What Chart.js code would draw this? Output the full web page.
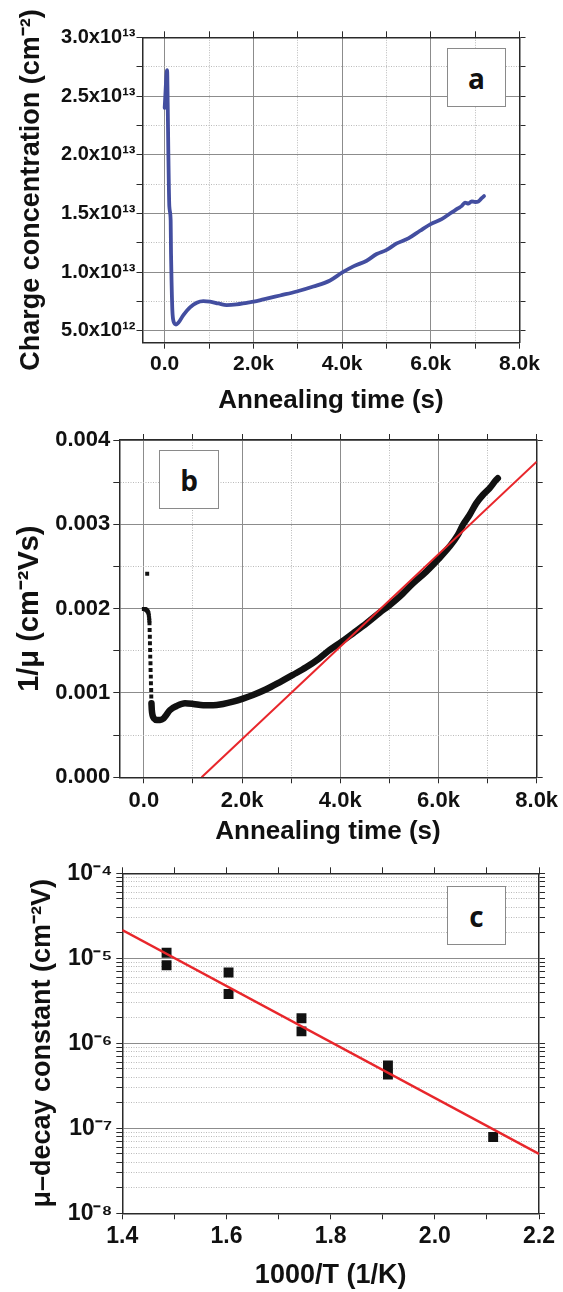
<!DOCTYPE html>
<html lang="en">
<head>
  <meta charset="UTF-8" />
  <title>Annealing of charge concentration and mobility</title>
  <script src="https://cdn.jsdelivr.net/npm/chart.js"></script>
  <style>
    body { margin: 0; background: #fff; }
    .panel { position: relative; width: 563px; }
    .panel canvas { display: block; }
    .tag {
      position: absolute;
      box-sizing: border-box;
      border: 1px solid #8a8a8a;
      background: #fff;
      font: bold 28px 'Open Sans', sans-serif;
      color: #111;
      display: flex;
      align-items: center;
      justify-content: center;
    }
  </style>
</head>
<body>
  <div class="panel" style="height:420px">
    <canvas id="chartA" width="563" height="420"></canvas>
    <div class="tag" style="left:447px;top:48px;width:59px;height:59px">a</div>
  </div>
  <div class="panel" style="height:430px">
    <canvas id="chartB" width="563" height="430"></canvas>
    <div class="tag" style="left:159px;top:30px;width:60px;height:59px">b</div>
  </div>
  <div class="panel" style="height:442px">
    <canvas id="chartC" width="563" height="442"></canvas>
    <div class="tag" style="left:447px;top:36px;width:59px;height:59px">c</div>
  </div>

  <script>
    // --- panel a: charge concentration vs annealing time
    const timeA = [0, 55, 68, 83, 105, 135, 143, 158, 173, 203, 256, 308, 421, 571, 722, 872,
      1023, 1211, 1398, 1624, 1850, 2008, 2226, 2602, 2977, 3353, 3729, 4006, 4254, 4554,
      4780, 5005, 5231, 5494, 5757, 5997, 6245, 6433, 6621, 6700, 6771, 6850, 6922, 7000,
      7072, 7147, 7200];
    const chargeA = [2.40e13, 2.72e13, 2.44e13, 2.01e13, 1.56e13, 1.44e13, 1.16e13, 8.76e12,
      6.78e12, 5.78e12, 5.55e12, 5.69e12, 6.35e12, 7.00e12, 7.40e12, 7.54e12, 7.49e12, 7.34e12,
      7.20e12, 7.26e12, 7.40e12, 7.49e12, 7.68e12, 8.02e12, 8.36e12, 8.78e12, 9.30e12, 9.98e12,
      1.050e13, 1.098e13, 1.155e13, 1.190e13, 1.245e13, 1.288e13, 1.353e13, 1.410e13, 1.452e13,
      1.500e13, 1.545e13, 1.565e13, 1.592e13, 1.585e13, 1.604e13, 1.598e13, 1.602e13, 1.630e13,
      1.648e13];

    // --- panel b: 1/mobility vs annealing time
    const dropTimeB = [68, 0, 17, 34, 51, 68, 82, 95, 102, 108, 112, 115, 118, 122, 124, 128,
      130, 135, 137, 142, 144, 149, 151, 155];
    const dropInvMuB = [0.002415, 0.001996, 0.001996, 0.001992, 0.001985, 0.001976, 0.001962,
      0.001945, 0.00192, 0.001885, 0.00186, 0.001826, 0.001747, 0.001668, 0.001589, 0.00151,
      0.001431, 0.001352, 0.001273, 0.001194, 0.001115, 0.001036, 0.000957, 0.000878];
    const bandTimeB = [155, 162, 176, 209, 264, 331, 399, 446, 534, 669, 838, 1007, 1209, 1412,
      1615, 1818, 2020, 2223, 2493, 2764, 3034, 3304, 3574, 3786, 4003, 4261, 4532, 4803, 4992,
      5209, 5480, 5751, 5995, 6225, 6395, 6496, 6632, 6768, 6903, 7039, 7174, 7208];
    const bandInvMuB = [0.000878, 0.000798, 0.000739, 0.000696, 0.00068, 0.00068, 0.000696,
      0.000731, 0.000798, 0.000846, 0.000878, 0.00087, 0.000854, 0.000854, 0.00087, 0.000897,
      0.000933, 0.000976, 0.001044, 0.001127, 0.001214, 0.001304, 0.001411, 0.00151, 0.001597,
      0.001708, 0.001826, 0.001953, 0.002036, 0.002143, 0.0023, 0.002439, 0.002585, 0.002736,
      0.002874, 0.002992, 0.003111, 0.003249, 0.003348, 0.003427, 0.003526, 0.003546];
    const fitTimeB = [1176, 8000];
    const fitInvMuB = [0, 0.003743];

    // --- panel c: mobility decay constant vs 1000/T
    const invTempC = [1.485, 1.485, 1.604, 1.604, 1.744, 1.744, 1.910, 1.910, 2.112];
    const decayC = [1.16e-5, 8.3e-6, 6.8e-6, 3.8e-6, 1.97e-6, 1.38e-6, 5.5e-7, 4.3e-7, 7.9e-8];
    const fitInvTempC = [1.4, 2.2];
    const fitDecayC = [2.15e-5, 5.0e-8];

    // --- tick positions
    const timeTicks = [0, 1000, 2000, 3000, 4000, 5000, 6000, 7000, 8000];
    const chargeTicks = [5e12, 7.5e12, 1e13, 1.25e13, 1.5e13, 1.75e13, 2e13, 2.25e13, 2.5e13, 2.75e13, 3e13];
    const invMuTicks = [0, 0.0005, 0.001, 0.0015, 0.002, 0.0025, 0.003, 0.0035, 0.004];
    const invTempTicks = [1.4, 1.5, 1.6, 1.7, 1.8, 1.9, 2.0, 2.1, 2.2];
    const decadesC = [1e-8, 1e-7, 1e-6, 1e-5, 1e-4];
    const stepsC = [1, 2, 3, 4, 5, 6, 7, 8, 9];

    const FONT = "'Liberation Sans', Arial, Helvetica, sans-serif";
    const INK = '#111111';
    const FRAME = '#2a2a2a';
    const MAJOR = '#8c8c8c';
    const MINOR = '#bababa';

    Chart.defaults.font.family = FONT;
    Chart.defaults.color = INK;

    const pts = (xs, ys) => xs.map((x, i) => ({ x, y: ys[i] }));
    const SUP = { '0': '⁰', '1': '¹', '2': '²', '3': '³', '4': '⁴', '5': '⁵', '6': '⁶', '7': '⁷', '8': '⁸', '9': '⁹', '-': '⁻' };
    const sup = n => String(n).split('').map(ch => SUP[ch]).join('');

    const bold = size => ({ size, weight: 'bold', family: FONT });
    const fixWidth = w => s => { s.width = w; };
    const fixHeight = h => s => { s.height = h; };
    const useTicks = list => s => { s.ticks = list.map(v => ({ value: v })); };

    function grid(isMajor, onArea) {
      return {
        drawOnChartArea: onArea,
        color: c => (c.tick && isMajor(c.tick.value)) ? MAJOR : MINOR,
        lineWidth: 1,
        tickLength: 6,
        tickColor: FRAME,
        tickWidth: 1
      };
    }
    function border(isMajor) {
      return {
        color: FRAME,
        width: 1.5,
        dash: c => (c.tick && !isMajor(c.tick.value)) ? [1, 1.5] : []
      };
    }
    // unlabelled copy of an axis for the top / right side of the frame
    function mirror(base, position, fit) {
      return Object.assign({}, base, {
        position,
        ticks: { display: false, autoSkip: false },
        grid: Object.assign({}, base.grid, { drawOnChartArea: false }),
        title: { display: false },
        afterFit: fit
      });
    }

    const timeLabel = v => v === 0 ? '0.0' : (v % 2000 === 0 ? (v / 1000).toFixed(1) + 'k' : '');
    const evenThousand = v => Math.round(v) % 2000 === 0;

    const common = {
      responsive: false,
      animation: false,
      devicePixelRatio: 1,
      plugins: { legend: { display: false }, tooltip: { enabled: false } }
    };

    // ---------- panel a ----------
    const isMajorA = v => Math.round(v / 2.5e12) % 2 === 0;
    const xA = {
      type: 'linear', position: 'bottom', min: -500, max: 8000,
      afterBuildTicks: useTicks(timeTicks),
      ticks: { autoSkip: false, maxRotation: 0, font: bold(21), color: INK, padding: 2.5, callback: timeLabel },
      grid: grid(evenThousand, true),
      border: border(evenThousand),
      title: { display: true, text: 'Annealing time (s)', font: bold(26), color: INK, padding: { top: 0, bottom: 4 } },
      afterFit: fixHeight(77.3)
    };
    const yA = {
      type: 'linear', position: 'left', min: 4e12, max: 3e13,
      afterBuildTicks: useTicks(chargeTicks),
      ticks: { autoSkip: false, font: bold(20), color: INK, padding: 1,
        callback: v => {
          if (!isMajorA(v)) return '';
          const e = Math.floor(Math.log10(v) + 1e-9);
          return (v / Math.pow(10, e)).toFixed(1) + 'x10' + sup(e);
        } },
      grid: grid(isMajorA, true),
      border: border(isMajorA),
      title: { display: true, text: 'Charge concentration (cm⁻²)', font: bold(27), color: INK, padding: { top: 15, bottom: 0 } },
      afterFit: fixWidth(142.5)
    };
    new Chart(document.getElementById('chartA'), {
      type: 'scatter',
      data: {
        datasets: [{
          data: pts(timeA, chargeA),
          showLine: true,
          borderColor: '#434ea0',
          borderWidth: 3.8,
          pointRadius: 0,
          cubicInterpolationMode: 'monotone',
          borderJoinStyle: 'round',
          borderCapStyle: 'round'
        }]
      },
      options: Object.assign({}, common, {
        layout: { padding: 0 },
        scales: {
          x: xA, y: yA,
          x2: mirror(xA, 'top', fixHeight(37.3)),
          y2: mirror(yA, 'right', fixWidth(43.5))
        }
      })
    });

    // ---------- panel b ----------
    const isMajorB = v => Math.round(v / 0.0005) % 2 === 0;
    const xB = {
      type: 'linear', position: 'bottom', min: -500, max: 8000,
      afterBuildTicks: useTicks(timeTicks),
      ticks: { autoSkip: false, maxRotation: 0, font: bold(22), color: INK, padding: 4.5, callback: timeLabel },
      grid: grid(evenThousand, true),
      border: border(evenThousand),
      title: { display: true, text: 'Annealing time (s)', font: bold(26), color: INK, padding: { top: 0, bottom: 2.4 } },
      afterFit: fixHeight(72.7)
    };
    const yB = {
      type: 'linear', position: 'left', min: 0, max: 0.004,
      afterBuildTicks: useTicks(invMuTicks),
      ticks: { autoSkip: false, font: bold(22), color: INK, padding: 3,
        callback: v => isMajorB(v) ? v.toFixed(3) : '' },
      grid: grid(isMajorB, true),
      border: border(isMajorB),
      title: { display: true, text: '1/μ (cm⁻²Vs)', font: bold(29), color: INK, padding: { top: 13, bottom: 0 } },
      afterFit: fixWidth(119.3)
    };
    new Chart(document.getElementById('chartB'), {
      type: 'scatter',
      data: {
        datasets: [
          {
            data: pts(fitTimeB, fitInvMuB),
            showLine: true,
            borderColor: '#e8262b',
            borderWidth: 2,
            pointRadius: 0
          },
          {
            data: pts(bandTimeB, bandInvMuB),
            showLine: true,
            borderColor: '#111',
            borderWidth: 6.5,
            pointRadius: 0,
            cubicInterpolationMode: 'monotone',
            borderJoinStyle: 'round',
            borderCapStyle: 'round'
          },
          {
            data: pts(dropTimeB, dropInvMuB),
            showLine: false,
            pointStyle: 'rect',
            pointRadius: 2.8,
            backgroundColor: '#111',
            borderWidth: 0
          }
        ]
      },
      options: Object.assign({}, common, {
        layout: { padding: 0 },
        scales: {
          x: xB, y: yB,
          x2: mirror(xB, 'top', fixHeight(20)),
          y2: mirror(yB, 'right', fixWidth(26.3))
        }
      })
    });

    // ---------- panel c ----------
    const isDecade = v => Math.abs(Math.log10(v) - Math.round(Math.log10(v))) < 1e-6;
    const logTicksC = [];
    decadesC.slice(0, -1).forEach(d => stepsC.forEach(m => logTicksC.push(d * m)));
    logTicksC.push(decadesC[decadesC.length - 1]);
    const evenTenth = v => Math.round(v * 10) % 2 === 0;

    const xC = {
      type: 'linear', position: 'bottom', min: 1.4, max: 2.2,
      afterBuildTicks: useTicks(invTempTicks),
      ticks: { autoSkip: false, maxRotation: 0, font: bold(23), color: INK, padding: 4,
        callback: v => evenTenth(v) ? v.toFixed(1) : '' },
      grid: grid(evenTenth, false),
      border: { color: FRAME, width: 1.5 },
      title: { display: true, text: '1000/T (1/K)', font: bold(27), color: INK, padding: { top: 0, bottom: 0 } },
      afterFit: fixHeight(78.7)
    };
    const yC = {
      type: 'logarithmic', position: 'left', min: 1e-8, max: 1e-4,
      afterBuildTicks: useTicks(logTicksC),
      ticks: { autoSkip: false, font: bold(23), color: INK, padding: 4,
        callback: v => isDecade(v) ? '10' + sup(Math.round(Math.log10(v))) : '' },
      grid: grid(isDecade, true),
      border: border(isDecade),
      title: { display: true, text: 'μ–decay constant (cm⁻²V)', font: bold(27), color: INK, padding: { top: 26, bottom: 0 } },
      afterFit: fixWidth(122.3)
    };

    new Chart(document.getElementById('chartC'), {
      type: 'scatter',
      data: {
        datasets: [
          {
            data: pts(fitInvTempC, fitDecayC),
            showLine: true,
            borderColor: '#e8262b',
            borderWidth: 2.5,
            pointRadius: 0
          },
          {
            data: pts(invTempC, decayC),
            pointStyle: 'rect',
            pointRadius: 7,
            backgroundColor: '#111',
            borderWidth: 0
          }
        ]
      },
      options: Object.assign({}, common, {
        layout: { padding: 0 },
        scales: {
          x: xC, y: yC,
          x2: mirror(xC, 'top', fixHeight(23.3)),
          y2: mirror(yC, 'right', fixWidth(24))
        }
      })
    });
  </script>
</body>
</html>
